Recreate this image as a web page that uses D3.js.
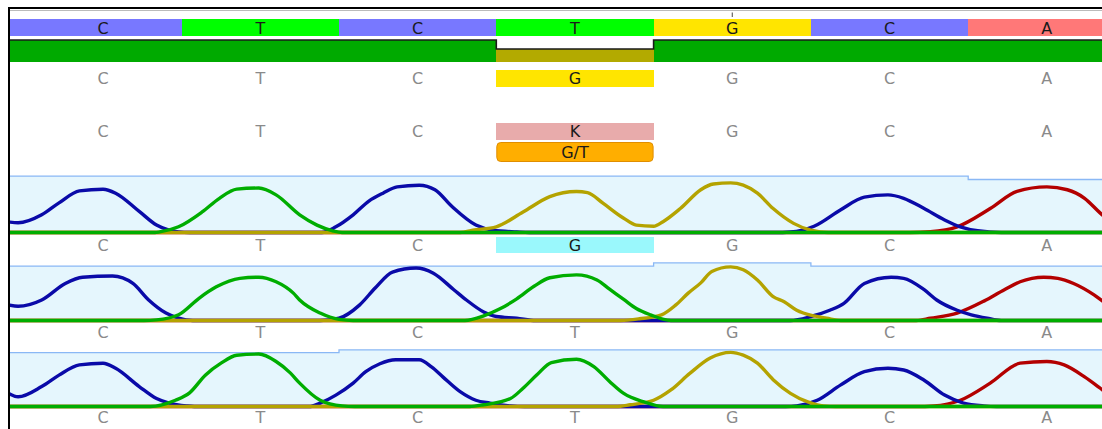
<!DOCTYPE html>
<html>
<head>
<meta charset="utf-8">
<script src="https://cdn.jsdelivr.net/npm/d3@7"></script>
<style>
  body { margin: 0; background: #fff; }
  svg { display: block; font-family: "DejaVu Sans", sans-serif; }
  rect.cell { shape-rendering: crispEdges; }
</style>
</head>
<body>
<svg width="1102" height="429"></svg>
<script>
// sequence rows
var refBases = ["C", "T", "C", "T", "G", "C", "A"];
var consensusBases = ["C", "T", "C", "G", "G", "C", "A"];
var ambiguityBases = ["C", "T", "C", "K", "G", "C", "A"];
var variantIndex = 3;
var variantLabel = "G/T";
var markerIndex = 4;
var coverageDepth = [100, 100, 100, 59, 100, 100, 100];

// read base calls
var read1Bases = ["C", "T", "C", "G", "G", "C", "A"];
var read2Bases = ["C", "T", "C", "T", "G", "C", "A"];
var read3Bases = ["C", "T", "C", "T", "G", "C", "A"];

// trace outline (position in bases, signal 0-100)
var read1Top = [[-0.6, 99], [5.5, 93], [6.6, 93]];
var read2Top = [[-0.6, 95.5], [3.5, 101], [4.5, 95.5], [6.6, 95.5]];
var read3Top = [[-0.6, 94.5], [1.5, 99.5], [6.6, 99.5]];

// chromatogram traces, [position, signal]
var read1A = [[-0.6, 0], [5.13, 0], [5.26, 1.4], [5.43, 10], [5.64, 42], [5.81, 72], [6.0, 80], [6.13, 75], [6.24, 60], [6.34, 34], [6.45, 10], [6.55, 0], [6.6, 0]];
var read1C = [[-0.61, 19], [-0.54, 17], [-0.39, 31], [-0.28, 52], [-0.15, 73], [0.0, 76], [0.08, 69], [0.23, 37], [0.34, 13], [0.42, 4], [0.48, 1], [0.55, 0],
  [1.39, 0], [1.48, 10], [1.59, 31], [1.69, 55], [1.78, 69], [1.87, 80], [2.01, 83], [2.11, 75], [2.22, 45], [2.37, 13], [2.48, 4], [2.63, 1], [2.71, 0],
  [4.27, 0], [4.37, 1], [4.52, 11], [4.69, 40], [4.84, 62], [4.99, 66], [5.09, 60], [5.22, 42], [5.35, 22], [5.45, 10], [5.56, 3], [5.71, 0], [6.6, 0]];
var read1G = [[-0.6, 0], [2.27, 0], [2.35, 4], [2.5, 10], [2.67, 36], [2.84, 63], [3.01, 72], [3.08, 70], [3.18, 51], [3.31, 25], [3.39, 13], [3.5, 11],
  [3.56, 19], [3.67, 42], [3.8, 75], [3.88, 85], [3.99, 87], [4.07, 83], [4.16, 69], [4.26, 42], [4.39, 16], [4.5, 4], [4.56, 1], [4.66, 0], [6.6, 0]];
var read1T = [[-0.6, 0], [0.33, 0], [0.36, 1], [0.48, 10], [0.63, 36], [0.74, 60], [0.85, 76], [0.99, 78], [1.1, 66], [1.25, 31], [1.36, 13], [1.46, 3], [1.52, 0], [6.6, 0]];

var read2A = [[-0.6, 0], [5.17, 0], [5.26, 4], [5.43, 13], [5.6, 34], [5.73, 54], [5.83, 68], [5.98, 76], [6.07, 74], [6.17, 65], [6.3, 45], [6.41, 22], [6.5, 4], [6.6, 0]];
var read2C = [[-0.6, 27], [-0.54, 25], [-0.39, 36], [-0.24, 65], [-0.13, 76], [0.06, 78], [0.19, 65], [0.29, 36], [0.4, 13], [0.48, 4], [0.57, 0],
  [1.38, 0], [1.5, 4], [1.63, 27], [1.73, 57], [1.84, 85], [1.99, 92], [2.1, 83], [2.23, 54], [2.31, 36], [2.42, 15], [2.5, 7], [2.63, 4], [2.75, 0],
  [4.37, 0], [4.5, 7], [4.62, 18], [4.71, 30], [4.84, 65], [5.01, 76], [5.09, 74], [5.22, 54], [5.3, 36], [5.43, 18], [5.52, 10], [5.62, 4], [5.71, 0], [6.6, 0]];
var read2G = [[-0.6, 0], [3.29, 0], [3.41, 3], [3.55, 10], [3.64, 27], [3.72, 48], [3.8, 66], [3.87, 86], [3.99, 94], [4.07, 89], [4.16, 71], [4.26, 42],
  [4.33, 33], [4.41, 18], [4.52, 8], [4.6, 4], [4.69, 0], [6.6, 0]];
var read2T = [[-0.6, 0], [0.26, 0], [0.34, 1], [0.48, 10], [0.61, 39], [0.72, 59], [0.87, 74], [0.99, 76], [1.1, 68], [1.21, 48], [1.25, 36], [1.38, 13], [1.5, 2], [1.59, 0],
  [2.3, 0], [2.42, 8], [2.52, 20], [2.63, 38], [2.74, 60], [2.84, 75], [3.01, 80], [3.14, 71], [3.22, 55], [3.31, 37], [3.39, 21], [3.48, 10], [3.61, 0], [6.6, 0]];

var read3A = [[-0.6, 0], [5.17, 0], [5.28, 1], [5.45, 11], [5.64, 41], [5.83, 76], [6.0, 79], [6.11, 73], [6.24, 52], [6.34, 32], [6.44, 11], [6.5, 3], [6.6, 0]];
var read3C = [[-0.6, 23], [-0.54, 17], [-0.39, 35], [-0.28, 55], [-0.15, 73], [0.0, 76], [0.08, 67], [0.23, 35], [0.34, 14], [0.42, 6], [0.53, 1], [0.58, 0],
  [1.31, 0], [1.38, 6], [1.48, 20], [1.59, 41], [1.67, 61], [1.76, 75], [1.86, 82], [2.01, 82], [2.09, 69], [2.16, 52], [2.27, 26], [2.37, 11], [2.46, 6], [2.59, 1], [2.68, 0],
  [4.34, 0], [4.41, 1], [4.54, 11], [4.69, 38], [4.84, 61], [4.99, 67], [5.09, 64], [5.22, 46], [5.35, 20], [5.47, 6], [5.6, 1], [5.68, 0], [6.6, 0]];
var read3G = [[-0.6, 0], [3.26, 0], [3.35, 3], [3.5, 11], [3.61, 29], [3.73, 58], [3.86, 85], [3.99, 95], [4.07, 90], [4.16, 76], [4.26, 47], [4.37, 23],
  [4.48, 8], [4.58, 1], [4.66, 0], [6.6, 0]];
var read3T = [[-0.6, 0], [0.3, 0], [0.46, 11], [0.55, 24], [0.65, 55], [0.75, 76], [0.85, 90], [0.99, 92], [1.1, 79], [1.19, 59], [1.25, 41], [1.38, 11], [1.52, 1], [1.6, 0],
  [2.33, 0], [2.42, 3], [2.59, 14], [2.67, 32], [2.76, 56], [2.85, 77], [3.01, 83], [3.12, 70], [3.22, 44], [3.31, 23], [3.44, 8], [3.56, 0], [6.6, 0]];

var baseFill = { A: "#ff7878", C: "#7878ff", G: "#ffe500", T: "#00ff00" };
var traceColor = { A: "#b30000", C: "#0a0aa8", G: "#b4a300", T: "#00ad00" };

var reads = [
  { bases: read1Bases, top: read1Top, traces: { A: read1A, C: read1C, G: read1G, T: read1T }, base: 232.5, label: 245, mark: 3 },
  { bases: read2Bases, top: read2Top, traces: { A: read2A, C: read2C, G: read2G, T: read2T }, base: 320.5, label: 332, mark: -1 },
  { bases: read3Bases, top: read3Top, traces: { A: read3A, C: read3C, G: read3G, T: read3T }, base: 406.5, label: 417, mark: -1 }
];

var svg = d3.select("svg");
var x = d3.scaleLinear().domain([-0.5, 6.5]).range([24.4, 1125.5]);
var colW = x(1) - x(0);
// first column runs under the frame edge
var colLeft = function (i) { return i === 0 ? 0 : x(i - 0.5); };
var colWidth = function (i) { return i === 0 ? x(0.5) : colW; };

svg.append("defs").append("clipPath").attr("id", "inner")
  .append("rect").attr("x", 10).attr("y", 9).attr("width", 1100).attr("height", 430);

var g = svg.append("g").attr("clip-path", "url(#inner)");

// reference row
g.selectAll(".ref").data(refBases).enter().append("rect").attr("class", "cell")
  .attr("x", function (d, i) { return colLeft(i); })
  .attr("y", 19).attr("width", function (d, i) { return colWidth(i) + 0.5; }).attr("height", 17)
  .attr("fill", function (d) { return baseFill[d]; });
g.selectAll(".refText").data(refBases).enter().append("text")
  .attr("x", function (d, i) { return x(i); }).attr("y", 28).attr("dy", "0.36em")
  .attr("text-anchor", "middle").attr("font-size", 16).attr("fill", "#1a1a1a")
  .text(function (d) { return d; });

// position marker
g.append("line").attr("x1", x(markerIndex)).attr("x2", x(markerIndex))
  .attr("y1", 12.5).attr("y2", 17).attr("stroke", "#444").attr("stroke-width", 1);

// coverage bar
var yCov = d3.scaleLinear().domain([0, 100]).range([62, 40]);
g.selectAll(".cov").data(coverageDepth).enter().append("rect").attr("class", "cell")
  .attr("x", function (d, i) { return colLeft(i); })
  .attr("width", function (d, i) { return colWidth(i) + 0.5; })
  .attr("y", function (d) { return yCov(d); })
  .attr("height", function (d) { return 62 - yCov(d); })
  .attr("fill", function (d) { return d < 100 ? "#b3aa00" : "#00aa00"; });
var covPts = coverageDepth.map(function (d, i) { return [i - 0.5, d]; });
covPts[0][0] = -0.7;
covPts.push([6.7, coverageDepth[coverageDepth.length - 1]]);
g.append("path")
  .attr("d", d3.line().curve(d3.curveStepAfter)
    .x(function (d) { return x(d[0]); }).y(function (d) { return yCov(d[1]); })(covPts))
  .attr("fill", "none").attr("stroke", "#1a1a1a").attr("stroke-width", 1.6);

// consensus rows
function letterRow(bases, y, hiIndex, hiFill) {
  if (hiIndex >= 0) {
    g.append("rect").attr("class", "cell").attr("x", colLeft(hiIndex)).attr("y", y - 8.5)
      .attr("width", colW).attr("height", 17).attr("fill", hiFill);
  }
  g.selectAll(null).data(bases).enter().append("text")
    .attr("x", function (d, i) { return x(i); }).attr("y", y).attr("dy", "0.36em")
    .attr("text-anchor", "middle").attr("font-size", 16)
    .attr("fill", function (d, i) { return i === hiIndex ? "#1a1a1a" : "#8a8a8a"; })
    .text(function (d) { return d; });
}
letterRow(consensusBases, 78.5, variantIndex, "#ffe500");
letterRow(ambiguityBases, 131.5, variantIndex, "#e8abab");

g.append("rect").attr("x", colLeft(variantIndex) + 0.5).attr("y", 142.5)
  .attr("width", colW - 1).attr("height", 19).attr("rx", 4)
  .attr("fill", "#ffae00").attr("stroke", "#e08e00");
g.append("text").attr("x", x(variantIndex)).attr("y", 152).attr("dy", "0.36em")
  .attr("text-anchor", "middle").attr("font-size", 16).attr("fill", "#1a1a1a")
  .text(variantLabel);

// chromatogram tracks
reads.forEach(function (r) {
  var y = d3.scaleLinear().domain([0, 100]).range([r.base, r.base - 57]);
  var bg = d3.area().curve(d3.curveStepAfter)
    .x(function (d) { return x(d[0]); }).y0(r.base).y1(function (d) { return y(d[1]); });
  g.append("path").attr("d", bg(r.top)).attr("fill", "#e5f6fd");
  g.append("path")
    .attr("d", d3.line().curve(d3.curveStepAfter)
      .x(function (d) { return x(d[0]); }).y(function (d) { return y(d[1]); })(r.top))
    .attr("fill", "none").attr("stroke", "#8ab8f5").attr("stroke-width", 1.3);

  var line = d3.line().curve(d3.curveMonotoneX)
    .x(function (d) { return x(d[0]); }).y(function (d) { return y(d[1]); });
  ["A", "C", "G", "T"].forEach(function (b) {
    g.append("path").attr("d", line(r.traces[b]))
      .attr("fill", "none").attr("stroke", traceColor[b])
      .attr("stroke-width", 3.4).attr("stroke-linejoin", "round");
  });

  if (r.mark >= 0) {
    g.append("rect").attr("class", "cell").attr("x", colLeft(r.mark)).attr("y", r.label - 8)
      .attr("width", colW).attr("height", 16).attr("fill", "#9af8fc");
  }
  g.selectAll(null).data(r.bases).enter().append("text")
    .attr("x", function (d, i) { return x(i); }).attr("y", r.label).attr("dy", "0.36em")
    .attr("text-anchor", "middle").attr("font-size", 16)
    .attr("fill", function (d, i) { return i === r.mark ? "#1a1a1a" : "#8a8a8a"; })
    .text(function (d) { return d; });
});

// frame
svg.append("line").attr("x1", 8).attr("x2", 1102).attr("y1", 8).attr("y2", 8)
  .attr("stroke", "#000").attr("stroke-width", 2);
svg.append("line").attr("x1", 10).attr("x2", 1102).attr("y1", 10.5).attr("y2", 10.5)
  .attr("stroke", "#bbb").attr("stroke-width", 1);
svg.append("line").attr("x1", 9).attr("x2", 9).attr("y1", 7).attr("y2", 429)
  .attr("stroke", "#000").attr("stroke-width", 2);
</script>
</body>
</html>
